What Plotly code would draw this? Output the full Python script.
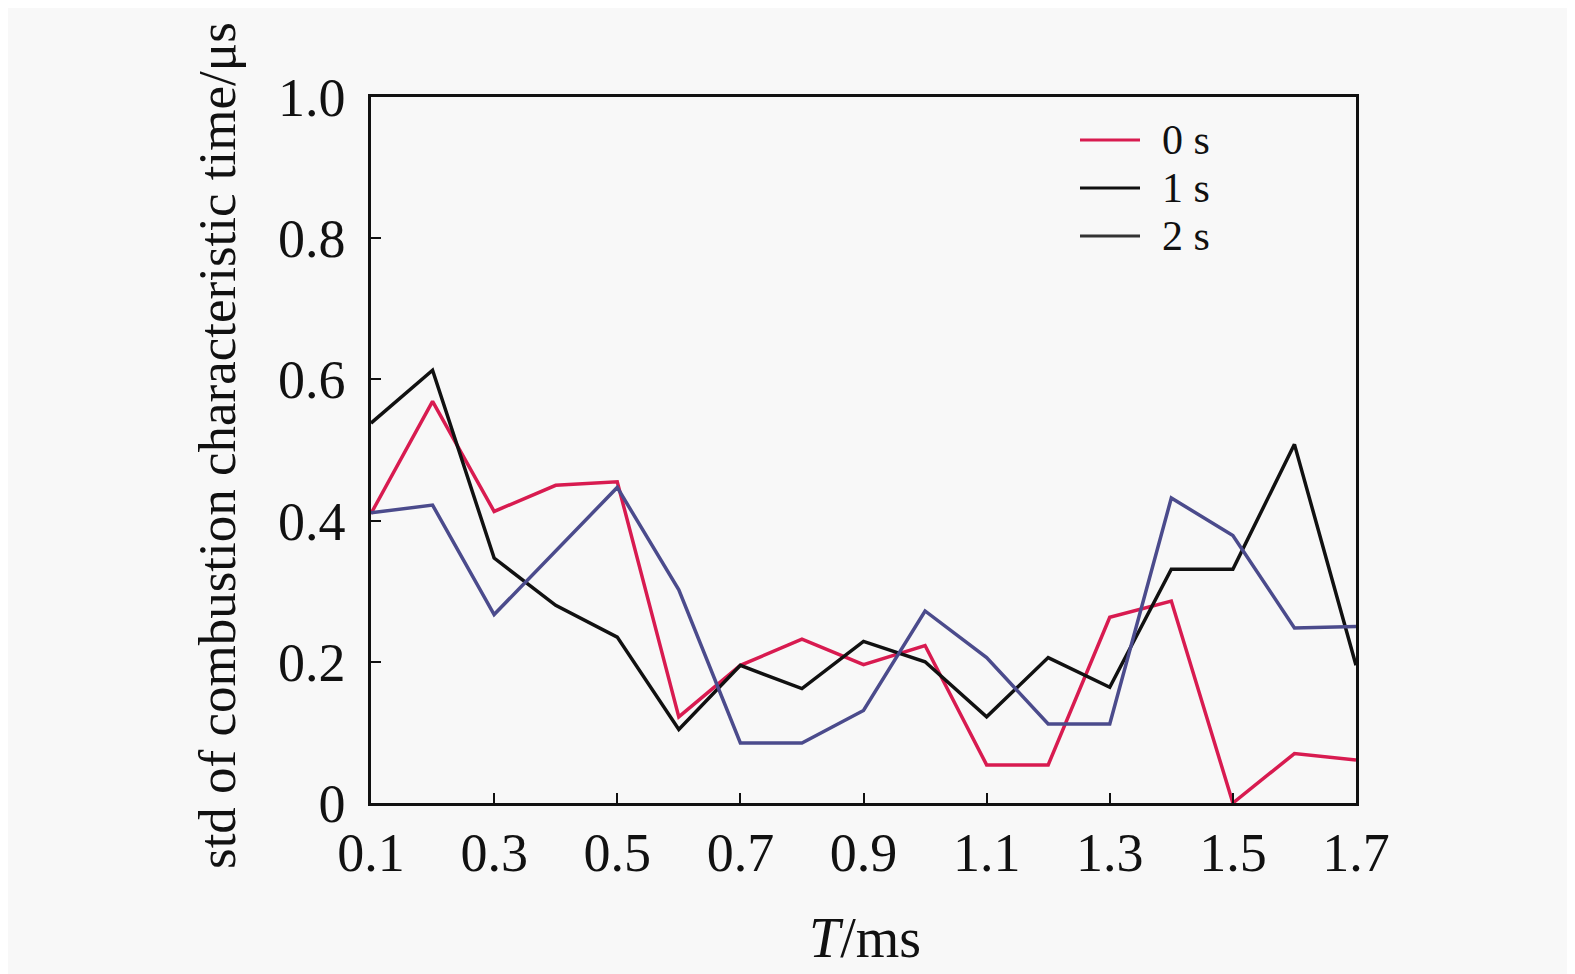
import plotly.graph_objects as go

T = [0.1, 0.2, 0.3, 0.4, 0.5, 0.6, 0.7, 0.8, 0.9, 1.0, 1.1, 1.2, 1.3, 1.4, 1.5, 1.6, 1.7]
s0 = [0.41, 0.569, 0.413, 0.45, 0.455, 0.122, 0.195, 0.232, 0.196, 0.223, 0.054, 0.054, 0.263, 0.286, 0.0, 0.07, 0.061]
s1 = [0.538, 0.613, 0.347, 0.28, 0.235, 0.104, 0.195, 0.162, 0.229, 0.2, 0.122, 0.206, 0.164, 0.331, 0.331, 0.508, 0.195]
s2 = [0.411, 0.422, 0.267, 0.357, 0.447, 0.302, 0.085, 0.085, 0.131, 0.272, 0.206, 0.112, 0.112, 0.432, 0.379, 0.248, 0.25]

names = ["0 s", "1 s", "2 s"]
colors = ["#d81b50", "#111111", "#4b4b8c"]
legend_colors = ["#d81b50", "#111111", "#333333"]

xtick_vals = [0.1, 0.3, 0.5, 0.7, 0.9, 1.1, 1.3, 1.5, 1.7]
xtick_text = ["0.1", "0.3", "0.5", "0.7", "0.9", "1.1", "1.3", "1.5", "1.7"]
ytick_vals = [0, 0.2, 0.4, 0.6, 0.8, 1.0]
ytick_text = ["0", "0.2", "0.4", "0.6", "0.8", "1.0"]

FONT = "Liberation Serif, Times New Roman, serif"

fig = go.Figure()
for ys, nm, c in zip([s0, s1, s2], names, colors):
    fig.add_trace(go.Scatter(x=T, y=ys, mode="lines", name=nm,
                             line=dict(color=c, width=3.5), showlegend=False))

# the browser adds an 8px body margin; figure coordinates below are page - 8
W, H = 1567, 966
L, R, Tp, B = 363, 1348, 89, 795
pw, ph = R - L, B - Tp

def px(x):
    return (x - L) / pw

def py(y):
    return (B - y) / ph

shapes = []
annotations = []
leg_y = [132.0, 180.0, 228.0]
for nm, c, yy in zip(names, legend_colors, leg_y):
    shapes.append(dict(type="line", xref="paper", yref="paper",
                       x0=px(1072), x1=px(1132), y0=py(yy), y1=py(yy),
                       line=dict(color=c, width=3)))
    annotations.append(dict(xref="paper", yref="paper", x=px(1152), y=py(yy),
                            xanchor="left", yanchor="middle", showarrow=False,
                            text=nm, font=dict(family=FONT, size=42, color="#111")))

annotations.append(dict(xref="paper", yref="paper", x=px(209), y=py(438),
                        xanchor="center", yanchor="middle", showarrow=False,
                        textangle=-90, text="std of combustion characteristic time/μs",
                        font=dict(family=FONT, size=53, color="#111")))
annotations.append(dict(xref="paper", yref="paper", x=px(857), y=py(930),
                        xanchor="center", yanchor="middle", showarrow=False,
                        text="<i>T</i>/ms",
                        font=dict(family=FONT, size=56, color="#111")))

fig.update_layout(
    width=W, height=H,
    margin=dict(l=L, r=W - R, t=Tp, b=H - B, pad=0),
    paper_bgcolor="#f8f8f8", plot_bgcolor="#f8f8f8",
    showlegend=False,
    shapes=shapes, annotations=annotations,
    font=dict(family=FONT, size=54, color="#111"),
)
fig.update_xaxes(range=[0.1, 1.7], tickvals=xtick_vals, ticktext=xtick_text,
                 showgrid=False, zeroline=False, showline=True, mirror=True,
                 linecolor="#111", linewidth=2.5, ticks="inside", ticklen=10,
                 tickwidth=2, tickcolor="#111",
                 tickfont=dict(family=FONT, size=54, color="#111"))
fig.update_yaxes(range=[0, 1.0], tickvals=ytick_vals, ticktext=ytick_text,
                 showgrid=False, zeroline=False, showline=True, mirror=True,
                 linecolor="#111", linewidth=2.5, ticks="inside", ticklen=10,
                 tickwidth=2, tickcolor="#111", ticklabelstandoff=12,
                 tickfont=dict(family=FONT, size=54, color="#111"))

fig.write_html("out.html")
